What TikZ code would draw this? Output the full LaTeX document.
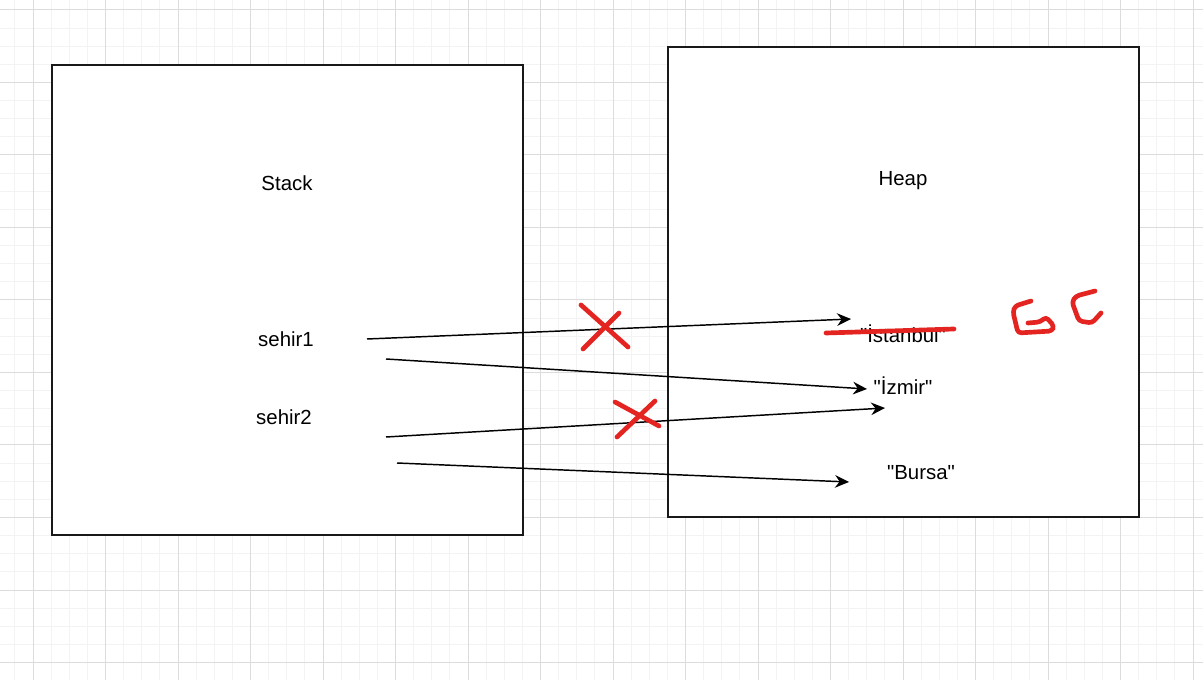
\documentclass[tikz,border=0pt]{standalone}
\usepackage{fontspec}
\setmainfont{Liberation Sans}[Ligatures=TeXOff]
\usetikzlibrary{arrows.meta}
\definecolor{gcred}{HTML}{E32420}
\definecolor{minorgrid}{HTML}{F3F3F3}
\definecolor{majorgrid}{HTML}{DCDCDC}

\begin{document}
\begin{tikzpicture}[x=0.75pt, y=-0.75pt,
                    mem node/.style={draw=black!90, line width=1.5pt, minimum width=353.25pt, minimum height=352.5pt, inner sep=0pt},
                    var node/.style={font=\fontsize{15.3}{18}\selectfont, inner sep=0pt, anchor=base},
                    ref/.style={-{Stealth[length=10.5pt,width=9.5pt,inset=3.5pt]}, line width=1.1pt},
                    red mark/.style={draw=gcred, line width=3.5pt, line cap=round, line join=round, rounded corners=2.5pt}]

  \useasboundingbox (0,0) rectangle (1203,680);
  \clip (0,0) rectangle (1203,680);
  \fill[white] (0,0) rectangle (1203,680);

  \foreach \k in {-1,...,64}
    \draw[minorgrid, line width=0.75pt] ({33+18.125*\k},0) -- ({33+18.125*\k},680);
  \foreach \k in {-1,...,37}
    \draw[minorgrid, line width=0.75pt] (0,{10+18.125*\k}) -- (1203,{10+18.125*\k});
  \foreach \k in {0,...,16}
    \draw[majorgrid, line width=0.75pt] ({33+72.5*\k},0) -- ({33+72.5*\k},680);
  \foreach \k in {0,...,9}
    \draw[majorgrid, line width=0.75pt] (0,{10+72.5*\k}) -- (1203,{10+72.5*\k});

  \node[mem node, fill=white] (stack) at (287.5,300) {};
  \node[mem node, fill=white] (heap) at (903.5,282) {};

  \node[var node] (stacklbl) at (287,191) {Stack};
  \node[var node] (heaplbl) at (903,186) {Heap};
  \node[var node] (sehir1) at (286,347) {sehir1};
  \node[var node] (sehir2) at (284,425) {sehir2};
  \node[var node] (istanbul) at (903,343) {"İstanbul"};
  \node[var node] (izmir) at (903,395) {"İzmir"};
  \node[var node] (bursa) at (921,480) {"Bursa"};

  \coordinate (s1a) at (367,339);
  \coordinate (s1b) at (386,359);
  \coordinate (s2a) at (386,437);
  \coordinate (s2b) at (397,463);
  \coordinate (ista) at (851,319);
  \coordinate (izma) at (867,389);
  \coordinate (izmb) at (885,408);
  \coordinate (bura) at (849,482);

  \draw[ref] (s1a) -- (ista);
  \draw[ref] (s1b) -- (izma);
  \draw[ref] (s2a) -- (izmb);
  \draw[ref] (s2b) -- (bura);

  \draw[red mark] (581,305) -- (628,347);
  \draw[red mark] (619,313) -- (583,349);
  \draw[red mark] (615,402) -- (659,426);
  \draw[red mark] (655,401) -- (617,437);

  \draw[red mark] (826,333) -- (954,329);

  \draw[red mark] (1031,301) -- (1015,306) -- (1013,312) -- (1018,333) -- (1052,331)
    -- (1054,326) -- (1046,317) -- (1040,322) -- (1028,323);
  \draw[red mark] (1095,291) -- (1076,296) -- (1072,302) -- (1079,321) -- (1092,323)
    -- (1101,313);
\end{tikzpicture}
\end{document}
